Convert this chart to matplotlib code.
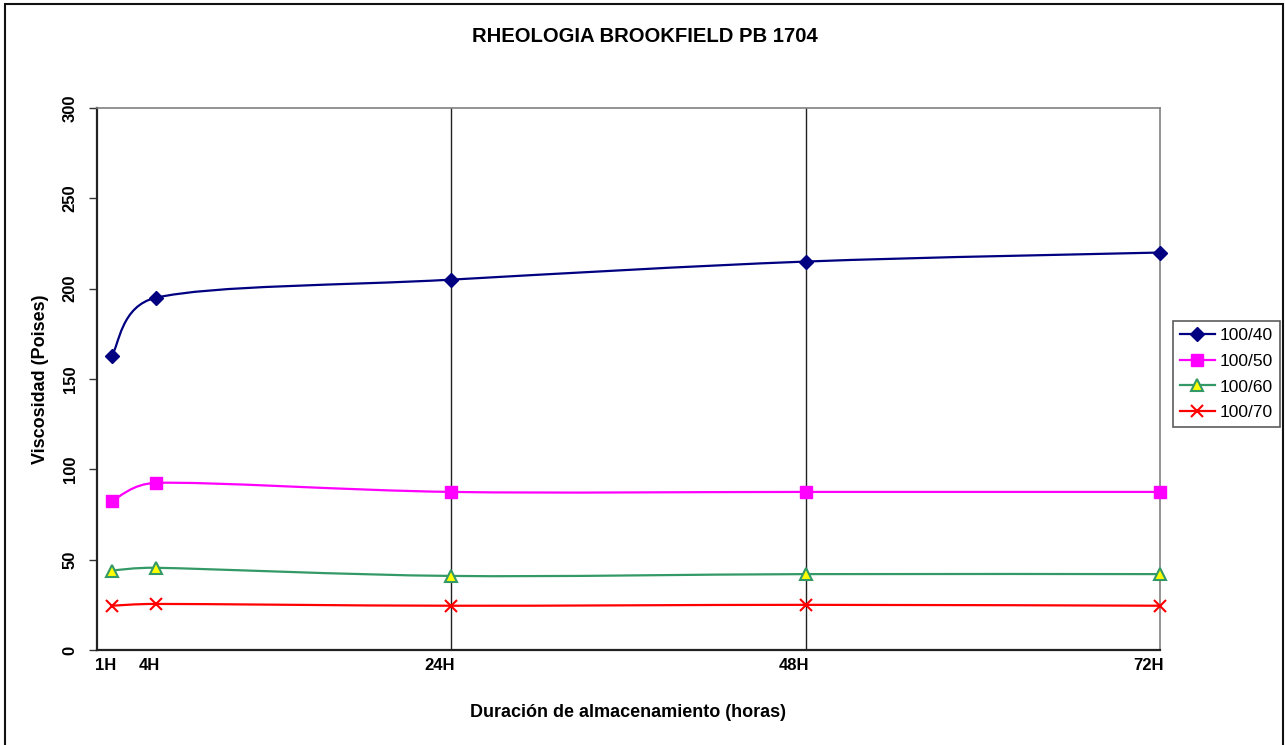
import numpy as np
import matplotlib.pyplot as plt
from matplotlib.path import Path
from matplotlib.patches import PathPatch, Rectangle
from matplotlib.lines import Line2D
from matplotlib.transforms import ScaledTranslation

plt.rcParams['font.family'] = ['Liberation Sans', 'DejaVu Sans']

horas = [1, 4, 24, 48, 72]
etiquetas = ['1H', '4H', '24H', '48H', '72H']
v_100_40 = [163, 195, 205, 215, 220]
v_100_50 = [82.5, 92.5, 87.5, 87.5, 87.5]
v_100_60 = [44, 45.5, 41, 42, 42]
v_100_70 = [24.5, 25.5, 24.5, 25, 24.5]

series = [
    ('100/40', v_100_40, dict(color='#000080', marker='D', ms=7.5, mfc='#000080', mec='#000080')),
    ('100/50', v_100_50, dict(color='#FF00FF', marker='s', ms=8, mfc='#FF00FF', mec='#FF00FF')),
    ('100/60', v_100_60, dict(color='#339966', marker='^', ms=8, mfc='#FFFF00', mec='#339966', mew=1.5)),
    ('100/70', v_100_70, dict(color='#FF0000', marker='x', ms=8, mfc='#FF0000', mec='#FF0000', mew=1.5)),
]

W, H = 1285, 745
x0, x1, y0, y1 = 97, 1160, 108, 650
XMAX, YMAX = 72, 300


def suavizado(x, y, sx, sy):
    # linea suavizada estilo Excel: bezier con tension 1/6,
    # limitada a media longitud del tramo (distancias en pixeles)
    p = np.column_stack([x, y]).astype(float)
    esc = np.array([sx, sy])
    dist = lambda a, b: np.hypot(*((b - a) * esc))
    n = len(p)
    verts = [p[0]]
    codes = [Path.MOVETO]
    for i in range(n - 1):
        a = p[max(i - 1, 0)]
        b, c = p[i], p[i + 1]
        d = p[min(i + 2, n - 1)]
        d12, d02, d13 = dist(b, c), dist(a, c), dist(b, d)
        f1 = 1 / 6 if d02 / 6 < d12 / 2 else d12 / (2 * d02)
        f2 = 1 / 6 if d13 / 6 < d12 / 2 else d12 / (2 * d13)
        verts += [b + f1 * (c - a), c - f2 * (d - b), c]
        codes += [Path.CURVE4] * 3
    return Path(verts, codes)


fig = plt.figure(figsize=(12.85, 7.45), dpi=100)
ax = fig.add_axes([x0 / W, 1 - y1 / H, (x1 - x0) / W, (y1 - y0) / H])
sx = (x1 - x0) / XMAX
sy = (y1 - y0) / YMAX

handles = []
for nombre, vals, st in series:
    ax.add_patch(PathPatch(suavizado(horas, vals, sx, sy), fill=False, edgecolor=st['color'],
                           lw=1.6, capstyle='round', zorder=3))
    ax.plot(horas, vals, ls='none', marker=st['marker'], ms=st['ms'], mfc=st['mfc'],
            mec=st['mec'], mew=st.get('mew', 1), zorder=4, clip_on=False)
    handles.append(Line2D([], [], color=st['color'], lw=1.6, marker=st['marker'], ms=st['ms'],
                          mfc=st['mfc'], mec=st['mec'], mew=st.get('mew', 1), label=nombre))

ax.set_xlim(0, XMAX)
ax.set_ylim(0, YMAX)
ax.set_yticks(range(0, 301, 50))
ax.set_yticklabels([str(v) for v in range(0, 301, 50)], rotation=90, va='center',
                   fontsize=12, fontweight='bold')
ax.tick_params(axis='y', direction='out', length=6, width=1, color='#333333', pad=8)
ax.set_xticks(horas)
ax.set_xticklabels(etiquetas, fontsize=12, fontweight='bold', ha='right')
ax.tick_params(axis='x', length=0, pad=6)
for lbl in ax.get_xticklabels():
    lbl.set_transform(lbl.get_transform() + ScaledTranslation(4 / 100, 0, fig.dpi_scale_trans))

for h in [24, 48]:
    ax.axvline(h, color='#222222', lw=1, zorder=1)

ax.spines['left'].set_color('#222222')
ax.spines['left'].set_linewidth(1.6)
ax.spines['bottom'].set_color('#222222')
ax.spines['bottom'].set_linewidth(1.6)
ax.spines['top'].set_color('#808080')
ax.spines['right'].set_color('#808080')
ax.spines['top'].set_linewidth(1.2)
ax.spines['right'].set_linewidth(1.2)

ax.set_ylabel('Viscosidad (Poises)', fontsize=13, fontweight='bold')
ax.yaxis.set_label_coords(-(x0 - 49) / (x1 - x0), 0.5)
ax.set_xlabel('Duración de almacenamiento (horas)', fontsize=13, fontweight='bold')
ax.xaxis.set_label_coords(0.5, -(704 - y1) / (y1 - y0))

fig.text(645 / W, 1 - 37 / H, 'RHEOLOGIA BROOKFIELD PB 1704', ha='center', va='center',
         fontsize=14.6, fontweight='bold')

leg = fig.legend(handles=handles, loc='center left', bbox_to_anchor=(1173 / W, 1 - 374 / H),
                 fontsize=12.5, frameon=True, fancybox=False, handlelength=2.0,
                 handletextpad=0.3, borderpad=0.4, labelspacing=0.62, borderaxespad=0)
leg.get_frame().set_edgecolor('#333333')
leg.get_frame().set_linewidth(1.2)

# marco exterior del grafico
fig.patches.append(Rectangle((5 / W, -0.05), (1283 - 5) / W, 1.05 - 4 / H, transform=fig.transFigure,
                             fill=False, edgecolor='#111111', lw=1.5))

fig.savefig('out.png', dpi=100)
